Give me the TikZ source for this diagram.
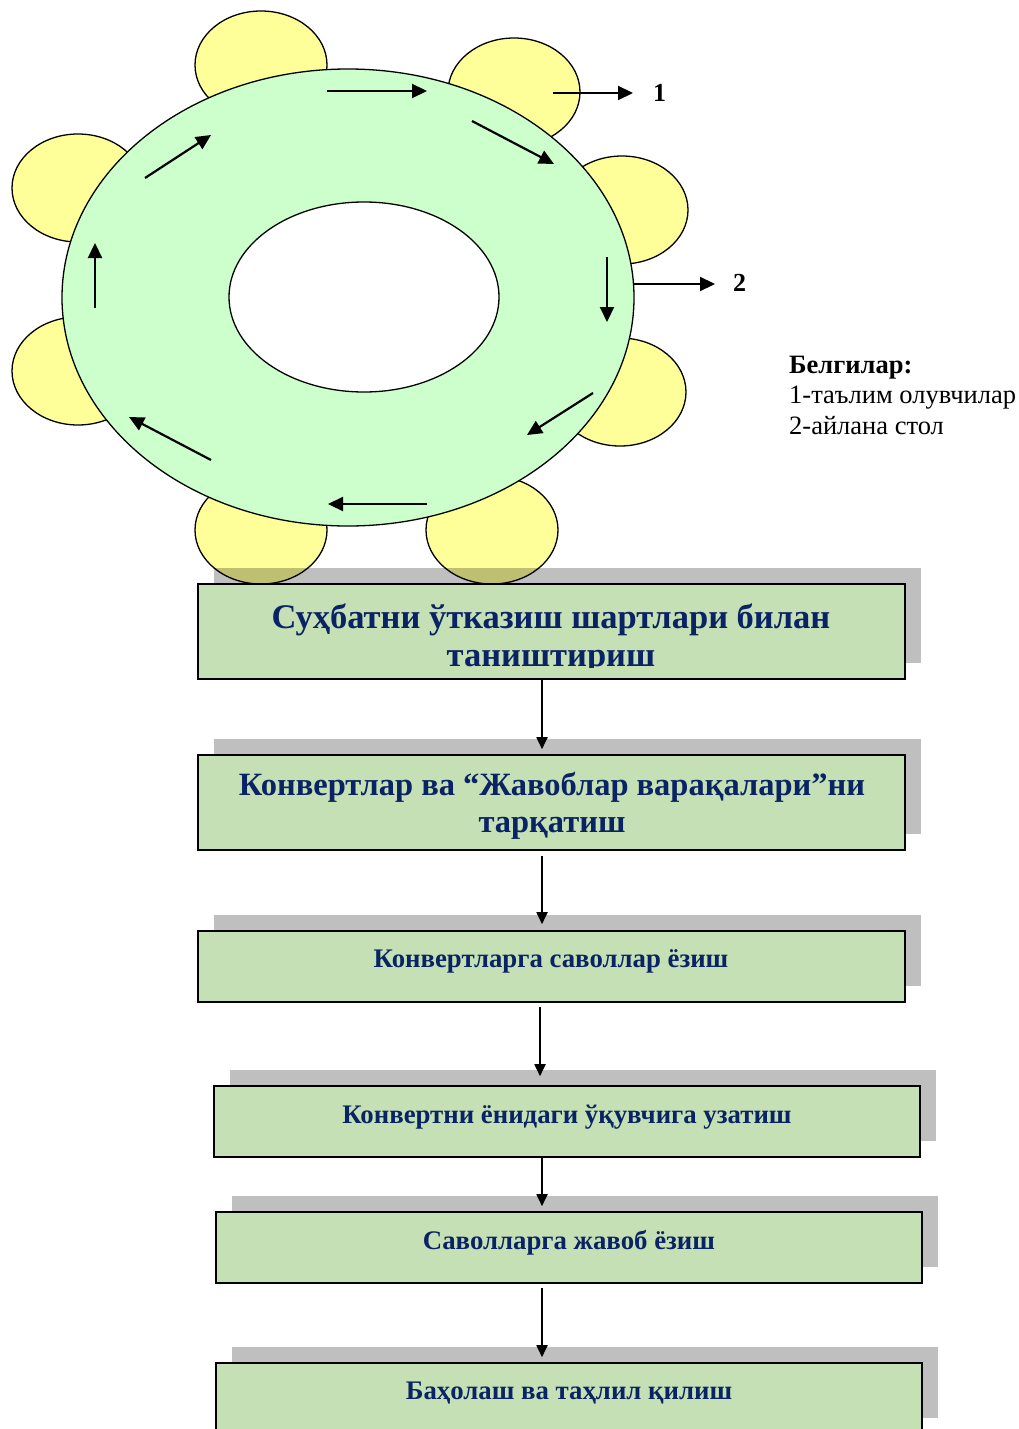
\documentclass[tikz,border=0pt]{standalone}
\usepackage{fontspec}
\setmainfont{Liberation Serif}
\usetikzlibrary{arrows.meta,shadows}
\definecolor{tableg}{HTML}{CCFFCC}
\definecolor{seat}{HTML}{FFFF99}
\definecolor{boxg}{HTML}{C5E0B4}
\definecolor{navy}{RGB}{10,35,100}
\begin{document}
\begin{tikzpicture}[x=1pt,y=-1pt,
  arr/.style={line width=2.2pt,-{Triangle[length=15pt,width=14pt]}},
  flow/.style={line width=1.8pt,-{Triangle[length=12pt,width=11pt]}},
  seatst/.style={draw,line width=1.3pt,fill=seat},
  stepbox/.style={shape=rectangle,draw,line width=1.6pt,fill=boxg,minimum width=707pt,inner sep=0pt,
    drop shadow={shadow xshift=16pt,shadow yshift=16pt,fill=black,opacity=0.25}},
  bigtxt/.style={font=\bfseries\fontsize{34.5}{38}\selectfont,text=navy,align=center,inner sep=0pt},
  smalltxt/.style={font=\bfseries\fontsize{26.8}{30}\selectfont,text=navy,inner sep=0pt},
  legtxt/.style={font=\fontsize{26.5}{30}\selectfont,anchor=base west,inner sep=0pt},
  numtxt/.style={font=\bfseries\fontsize{26}{30}\selectfont,anchor=west,inner sep=0pt},
]
\useasboundingbox (0,0) rectangle (1019,1429);
\clip (0,0) rectangle (1019,1429);

% seats
\foreach \cx/\cy in {261/65, 514/92, 622/210, 620/392, 492/530, 261/530, 78/371, 78/188}
  \draw[seatst] (\cx,\cy) ellipse [x radius=66pt, y radius=54pt];

% round table
\draw[line width=1.3pt,fill=tableg] (348,297.5) ellipse [x radius=286pt, y radius=228.5pt];
\draw[line width=1.3pt,fill=white] (364,297) ellipse [x radius=135pt, y radius=95pt];

% circulation arrows
\draw[arr] (327,91) -- (427,91);
\draw[arr] (472,121) -- (554,164);
\draw[arr] (607,257) -- (607,322);
\draw[arr] (593,393) -- (527,435);
\draw[arr] (427,504) -- (328,504);
\draw[arr] (211,460) -- (129,417);
\draw[arr] (95,308) -- (95,243);
\draw[arr] (145,178) -- (211,135);

% labels 1 and 2
\node[numtxt] (n1) at (653,93) {1};
\node[numtxt] (n2) at (733,283) {2};
\coordinate (s1) at (553,93);
\coordinate (s2) at (633,284);
\draw[arr] (s1) -- ([xshift=-20pt]n1.west);
\draw[arr] (s2) -- ([xshift=-18pt]n2.west |- s2);

% legend
\node[legtxt,font=\bfseries\fontsize{26.5}{30}\selectfont] (lg0) at (789,373) {Белгилар:};
\node[legtxt] (lg1) at (789,403) {1-таълим олувчилар};
\node[legtxt] (lg2) at (789,434) {2-айлана стол};

% flow boxes
\node[stepbox,minimum height=95pt] (b1) at (551.5,631.5) {};
\node[stepbox,minimum height=95pt] (b2) at (551.5,802.5) {};
\node[stepbox,minimum height=71pt] (b3) at (551.5,966.5) {};
\node[stepbox,minimum height=71pt,minimum width=706pt] (b4) at (567,1121.5) {};
\node[stepbox,minimum height=71pt,minimum width=706pt] (b5) at (569,1247.5) {};
\node[stepbox,minimum height=71pt,minimum width=706pt] (b6) at (569,1398.5) {};

\begin{scope}
\clip (198,584) rectangle (905,667);
\node[bigtxt] (t1) at (551,639) {Суҳбатни ўтказиш шартлари билан\\таништириш};
\end{scope}
\node[bigtxt,font=\bfseries\fontsize{32.5}{37}\selectfont] (t2) at (552,806) {Конвертлар ва “Жавоблар варақалари”ни\\тарқатиш};
\node[smalltxt] (t3) at (551,961) {Конвертларга саволлар ёзиш};
\node[smalltxt] (t4) at (567,1117) {Конвертни ёнидаги ўқувчига узатиш};
\node[smalltxt] (t5) at (569,1243) {Саволларга жавоб ёзиш};
\node[smalltxt] (t6) at (569,1393) {Баҳолаш ва таҳлил қилиш};

% flow connectors
\coordinate (ax) at (542,0);
\coordinate (bx) at (540,0);
\draw[flow,shorten >=5pt] (b1.south -| ax) -- (b2.north -| ax);
\draw[flow,shorten <=5pt,shorten >=6pt] (b2.south -| ax) -- (b3.north -| ax);
\draw[flow,shorten <=4pt,shorten >=9pt] (b3.south -| bx) -- (b4.north -| bx);
\draw[flow,shorten >=5pt] (b4.south -| ax) -- (b5.north -| ax);
\draw[flow,shorten <=4pt,shorten >=5pt] (b5.south -| ax) -- (b6.north -| ax);
\end{tikzpicture}
\end{document}
